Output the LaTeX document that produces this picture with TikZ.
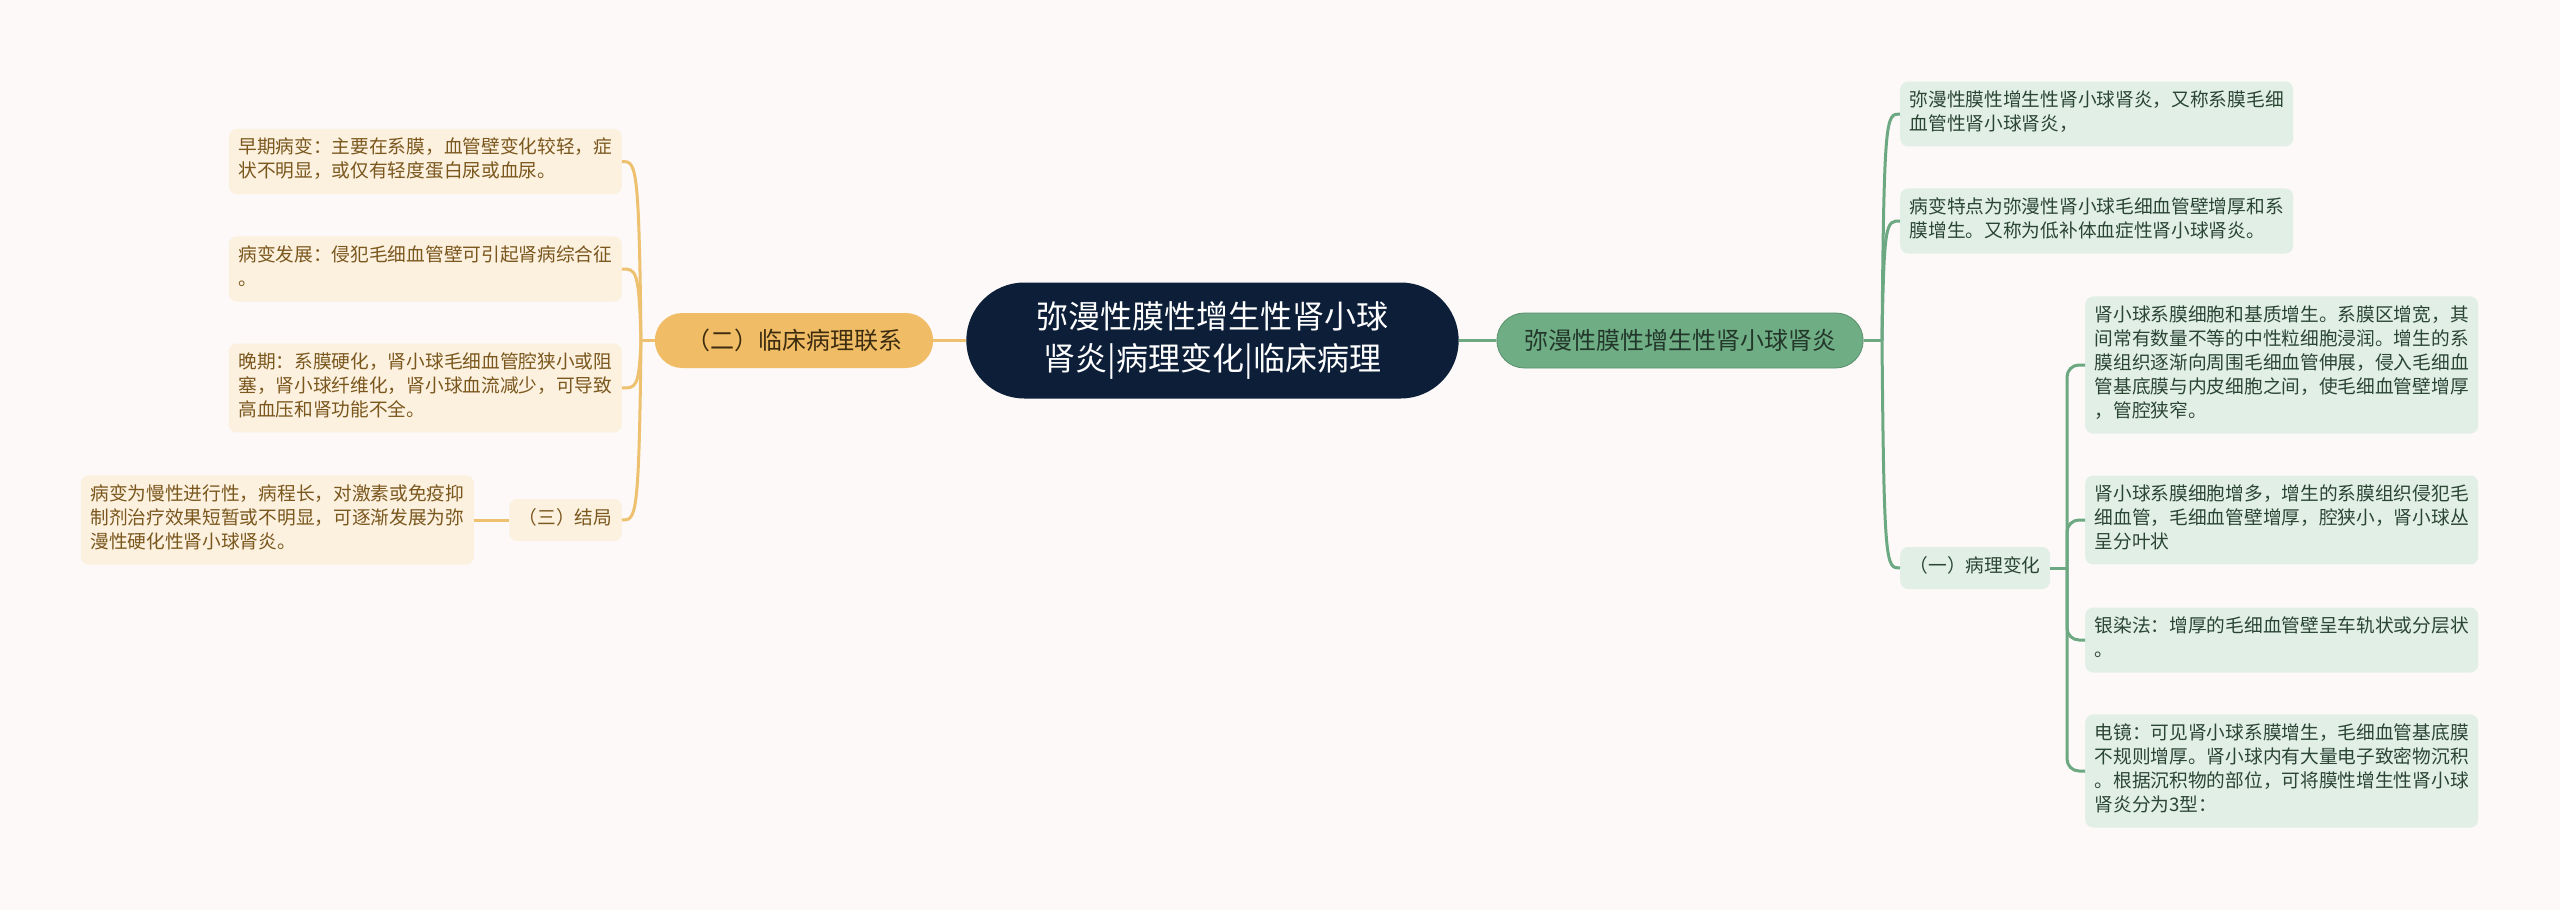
\documentclass[tikz,border=0pt]{standalone}
\usepackage{fontspec}
\setmainfont{Noto Sans CJK SC}
\usetikzlibrary{shapes.misc}
\usetikzlibrary{calc}
\definecolor{bgcol}{HTML}{FCF9F8}
\definecolor{rootcol}{HTML}{0C1E38}
\definecolor{greenfill}{HTML}{6FAD84}
\definecolor{greenline}{HTML}{6CA882}
\definecolor{greenleaf}{HTML}{E2EFE6}
\definecolor{greentext}{HTML}{2B4535}
\definecolor{orangefill}{HTML}{F0BD66}
\definecolor{orangeline}{HTML}{EEC170}
\definecolor{orangeleaf}{HTML}{FCF0DF}
\definecolor{orangetext}{HTML}{7A571D}

\begin{document}
\begin{tikzpicture}[x=1pt,y=-1pt,
	root/.style={rounded rectangle, fill=rootcol, text=white, minimum width=499pt, minimum height=116pt, align=center, font=\fontsize{32}{42}\selectfont},
	gmain/.style={rounded rectangle, fill=greenfill, draw=greenline!85!black, line width=0.8pt, text=greentext!80!black, minimum width=373pt, minimum height=55pt, font=\fontsize{24}{28}\selectfont},
	omain/.style={rounded rectangle, fill=orangefill, text=orangetext!50!black, minimum width=285pt, minimum height=55pt, font=\fontsize{24}{28}\selectfont},
	leaf/.style={rounded corners=8pt, inner xsep=9.5pt, inner ysep=9pt, align=left, font=\fontsize{18.7}{24}\selectfont, execute at begin node=\strut, execute at end node=\strut},
	gleaf/.style={leaf, fill=greenleaf, text=greentext},
	oleaf/.style={leaf, fill=orangeleaf, text=orangetext},
	gline/.style={draw=greenline, line width=3pt},
	oline/.style={draw=orangeline, line width=3pt}
	]
	\fill[bgcol] (0,0) rectangle (2560,910);
	
	\node[root] (root) at (1212.5,340.5) {弥漫性膜性增生性肾小球\\肾炎|病理变化|临床病理};
	\node[gmain] (gm) at (1680,340.5) {弥漫性膜性增生性肾小球肾炎};
	\node[omain] (om) at (794,340.5) {（二）临床病理联系};
	
	\coordinate (rjoin) at (1882,340.5);
	\coordinate (ljoin) at (641,340.5);
	\coordinate (sjoin) at (2067,568);
	
	\node[gleaf, anchor=west] (r1) at (1900,114) {弥漫性膜性增生性肾小球肾炎，又称系膜毛细\\血管性肾小球肾炎，};
	\node[gleaf, anchor=west] (r2) at (1900,221) {病变特点为弥漫性肾小球毛细血管壁增厚和系\\膜增生。又称为低补体血症性肾小球肾炎。};
	\node[gleaf, anchor=west] (bl) at (1900,568) {（一）病理变化};
	\node[gleaf, anchor=west] (sa) at (2085,365) {肾小球系膜细胞和基质增生。系膜区增宽，其\\间常有数量不等的中性粒细胞浸润。增生的系\\膜组织逐渐向周围毛细血管伸展，侵入毛细血\\管基底膜与内皮细胞之间，使毛细血管壁增厚\\，管腔狭窄。};
	\node[gleaf, anchor=west] (sb) at (2085,520) {肾小球系膜细胞增多，增生的系膜组织侵犯毛\\细血管，毛细血管壁增厚，腔狭小，肾小球丛\\呈分叶状};
	\node[gleaf, anchor=west] (sc) at (2085,640) {银染法：增厚的毛细血管壁呈车轨状或分层状\\。};
	\node[gleaf, anchor=west] (sd) at (2085,771) {电镜：可见肾小球系膜增生，毛细血管基底膜\\不规则增厚。肾小球内有大量电子致密物沉积\\。根据沉积物的部位，可将膜性增生性肾小球\\肾炎分为3型：};
	
	\node[oleaf, anchor=east] (l1) at (622,161.5) {早期病变：主要在系膜，血管壁变化较轻，症\\状不明显，或仅有轻度蛋白尿或血尿。};
	\node[oleaf, anchor=east] (l2) at (622,269) {病变发展：侵犯毛细血管壁可引起肾病综合征\\。};
	\node[oleaf, anchor=east] (l3) at (622,388) {晚期：系膜硬化，肾小球毛细血管腔狭小或阻\\塞，肾小球纤维化，肾小球血流减少，可导致\\高血压和肾功能不全。};
	\node[oleaf, anchor=east] (res) at (622,520) {（三）结局};
	\node[oleaf, anchor=east] (lb) at (474,520) {病变为慢性进行性，病程长，对激素或免疫抑\\制剂治疗效果短暂或不明显，可逐渐发展为弥\\漫性硬化性肾小球肾炎。};
	
	\draw[gline] (root.east) -- (gm.west);
	\draw[gline] (gm.east) -- (rjoin);
	\draw[gline] (rjoin) .. controls ([xshift=2pt]rjoin |- r1.west) and ([xshift=-14pt]r1.west) .. (r1.west);
	\draw[gline] (rjoin) .. controls ([xshift=2pt]rjoin |- r2.west) and ([xshift=-14pt]r2.west) .. (r2.west);
	\draw[gline] (rjoin) .. controls ([xshift=2pt]rjoin |- bl.west) and ([xshift=-14pt]bl.west) .. (bl.west);
	\draw[gline] (bl.east) -- (sjoin);
	\draw[gline, rounded corners=12pt] (sjoin) |- (sa.west);
	\draw[gline, rounded corners=12pt] (sjoin) |- (sb.west);
	\draw[gline, rounded corners=12pt] (sjoin) |- (sc.west);
	\draw[gline, rounded corners=12pt] (sjoin) |- (sd.west);
	
	\draw[oline] (root.west) -- (om.east);
	\draw[oline] (om.west) -- (ljoin);
	\draw[oline] (ljoin) .. controls ([xshift=-2pt]ljoin |- l1.east) and ([xshift=14pt]l1.east) .. (l1.east);
	\draw[oline] (ljoin) .. controls ([xshift=-2pt]ljoin |- l2.east) and ([xshift=14pt]l2.east) .. (l2.east);
	\draw[oline] (ljoin) .. controls ([xshift=-2pt]ljoin |- l3.east) and ([xshift=14pt]l3.east) .. (l3.east);
	\draw[oline] (ljoin) .. controls ([xshift=-2pt]ljoin |- res.east) and ([xshift=14pt]res.east) .. (res.east);
	\draw[oline] (res.west) -- (lb.east);
\end{tikzpicture}
\end{document}
